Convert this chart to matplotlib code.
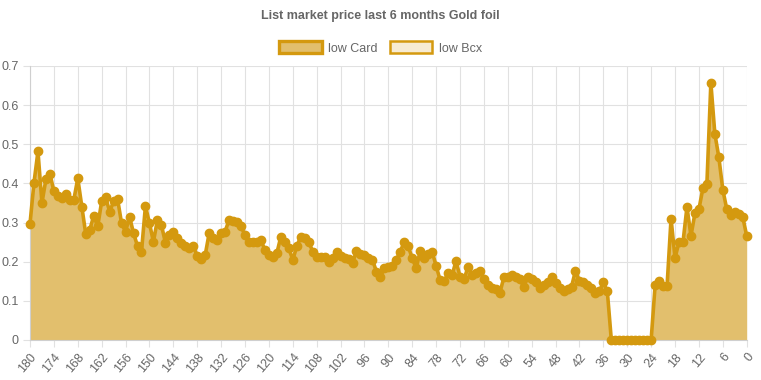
import matplotlib
matplotlib.use("Agg")
import matplotlib.pyplot as plt
from matplotlib.patches import Patch
import numpy as np

plt.rcParams['font.family'] = ['Liberation Sans', 'DejaVu Sans']

# days before today, 180 -> 0
days = list(range(180, -1, -1))
low_card = [
    0.297, 0.402, 0.482, 0.350, 0.411, 0.425, 0.380, 0.367, 0.362, 0.373,  # 180-171
    0.358, 0.358, 0.413, 0.341, 0.271, 0.281, 0.317, 0.290, 0.354, 0.365,  # 170-161
    0.328, 0.354, 0.360, 0.298, 0.277, 0.315, 0.273, 0.240, 0.226, 0.343,  # 160-151
    0.298, 0.251, 0.307, 0.294, 0.249, 0.268, 0.277, 0.260, 0.247, 0.240,  # 150-141
    0.234, 0.239, 0.215, 0.206, 0.217, 0.273, 0.260, 0.256, 0.273, 0.277,  # 140-131
    0.307, 0.305, 0.302, 0.290, 0.268, 0.251, 0.250, 0.251, 0.255, 0.230,  # 130-121
    0.217, 0.213, 0.222, 0.264, 0.251, 0.234, 0.205, 0.239, 0.264, 0.260,  # 120-111
    0.251, 0.226, 0.213, 0.213, 0.213, 0.200, 0.210, 0.226, 0.215, 0.209,  # 110-101
    0.207, 0.196, 0.228, 0.220, 0.217, 0.210, 0.205, 0.175, 0.162, 0.183,  # 100-91
    0.187, 0.190, 0.205, 0.226, 0.251, 0.239, 0.209, 0.183, 0.228, 0.209,  # 90-81
    0.220, 0.226, 0.190, 0.153, 0.150, 0.170, 0.165, 0.202, 0.162, 0.155,  # 80-71
    0.186, 0.167, 0.170, 0.177, 0.155, 0.140, 0.132, 0.130, 0.120, 0.160,  # 70-61
    0.162, 0.166, 0.160, 0.155, 0.136, 0.160, 0.155, 0.149, 0.132, 0.140,  # 60-51
    0.149, 0.160, 0.145, 0.132, 0.125, 0.130, 0.136, 0.177, 0.150, 0.149,  # 50-41
    0.140, 0.132, 0.119, 0.125, 0.147, 0.124, 0.0, 0.0, 0.0, 0.0,          # 40-31
    0.0, 0.0, 0.0, 0.0, 0.0, 0.0, 0.0, 0.140, 0.152, 0.138,                # 30-21
    0.138, 0.310, 0.210, 0.250, 0.250, 0.340, 0.266, 0.324, 0.334, 0.388,  # 20-11
    0.398, 0.657, 0.527, 0.467, 0.384, 0.334, 0.320, 0.328, 0.322, 0.315,  # 10-1
    0.266,                                                                  # 0
]
assert len(low_card) == len(days)

line_col = '#d4990f'
fill_col = '#e2bf6d'
bcx_fill = '#f7ebd2'
text_col = '#666666'
grid_col = '#e1e1e1'

fig = plt.figure(figsize=(7.61, 3.80), dpi=100)
ax = fig.add_axes([30 / 761, 1 - 340 / 380, 716.7 / 761, 274 / 380])

ax.fill_between(days, low_card, 0, color=fill_col, lw=0, zorder=2)
ax.plot(days, low_card, color=line_col, lw=2.6, marker='o', ms=6,
        mfc=line_col, mec=line_col, zorder=3, clip_on=False)

ax.set_xlim(180, 0)
ax.set_ylim(0, 0.7)
ax.set_xticks(list(range(180, -1, -6)))
ax.set_xticklabels([str(d) for d in range(180, -1, -6)], rotation=50,
                   ha='right', rotation_mode='anchor')
ax.set_yticks(np.arange(0, 0.71, 0.1))
ax.set_yticklabels(['0'] + ['%.1f' % v for v in np.arange(0.1, 0.71, 0.1)])
ax.grid(True, color=grid_col, lw=0.8, zorder=0)
ax.set_axisbelow(True)
for s in ['top', 'right']:
    ax.spines[s].set_visible(False)
for s in ['left', 'bottom']:
    ax.spines[s].set_color('#cfcfcf')
ax.tick_params(colors=text_col, labelsize=9, length=5, width=0.8, pad=3)
ax.tick_params(axis='both', color=grid_col)

fig.text(0.5, 1 - 16 / 380, 'List market price last 6 months Gold foil',
         ha='center', va='center', fontsize=9, fontweight='bold', color=text_col)

handles = [Patch(facecolor=fill_col, edgecolor=line_col, lw=2.4, label='low Card'),
           Patch(facecolor=bcx_fill, edgecolor=line_col, lw=1.8, label='low Bcx')]
fig.legend(handles=handles, loc='center', bbox_to_anchor=(0.5, 1 - 48 / 380),
           ncol=2, frameon=False, fontsize=9, labelcolor=text_col,
           handlelength=3.4, handleheight=1.1, handletextpad=0.5, columnspacing=1.0)

fig.savefig('out.png', dpi=100)
